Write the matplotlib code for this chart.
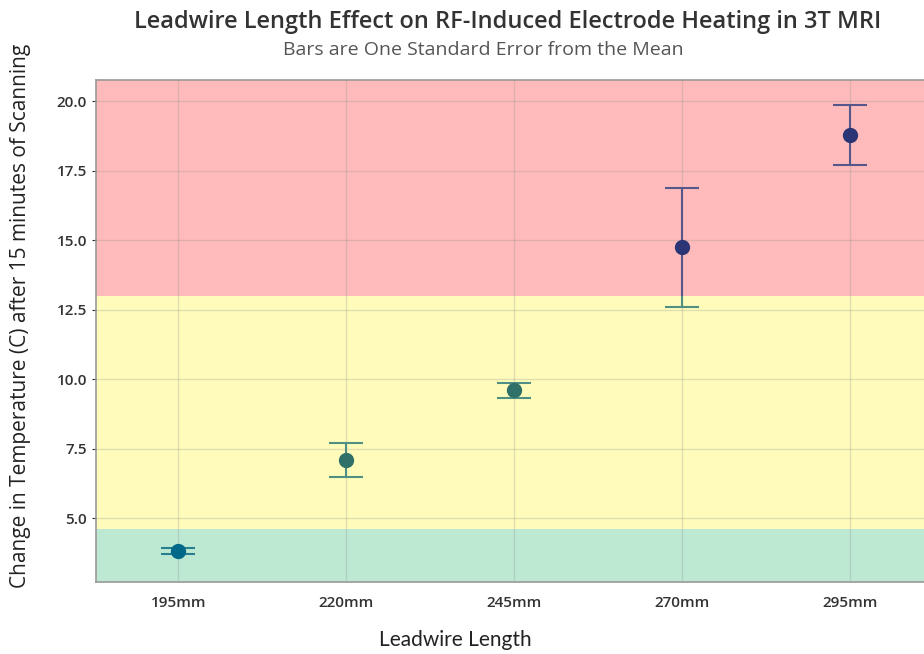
import matplotlib.pyplot as plt
import numpy as np

# data
lengths = ['195mm', '220mm', '245mm', '270mm', '295mm']
mean_dt = [3.81, 7.09, 9.60, 14.75, 18.78]
sem_dt = [0.12, 0.60, 0.27, 2.14, 1.08]

# heating zones (low / medium / high)
zone_edges = [2.70, 4.6, 13.0, 20.76]
zone_colors = ['#bde9d3', '#fffcbb', '#ffbbbb']
pt_colors = ['#00698a', '#2f7068', '#2b3575']
bar_colors = ['#2a7f8f', '#4f8f84', '#55578a']

plt.rcParams['font.family'] = ['Open Sans', 'DejaVu Sans']


def zone_of(y):
    return int(np.clip(np.searchsorted(zone_edges, y) - 1, 0, len(zone_colors) - 1))


fig = plt.figure(figsize=(9.24, 6.54), dpi=100)
ax = fig.add_axes([96/924, 72/654, 1 - 96/924, 502/654])
y0 = 654 - 72  # pixel row of the axes bottom

x = np.arange(len(lengths))
ax.set_xlim(-0.49, 4.44)
ax.set_ylim(zone_edges[0], zone_edges[-1])

for lo, hi, c in zip(zone_edges[:-1], zone_edges[1:], zone_colors):
    ax.axhspan(lo, hi, color=c, zorder=0, lw=0)

for i in range(len(x)):
    lo = mean_dt[i] - sem_dt[i]
    hi = mean_dt[i] + sem_dt[i]
    # whisker coloured by the zone each piece falls in
    cuts = [lo] + [e for e in zone_edges if lo < e < hi] + [hi]
    for a, b in zip(cuts[:-1], cuts[1:]):
        ax.vlines(x[i], a, b, color=bar_colors[zone_of((a + b) / 2)], lw=1.5, zorder=3)
    for yc in (lo, hi):
        ax.plot(x[i], yc, marker='_', ms=24, mew=1.5, color=bar_colors[zone_of(yc)], zorder=3)
    ax.plot(x[i], mean_dt[i], 'o', color=pt_colors[zone_of(mean_dt[i])], ms=10, zorder=4)

ax.set_xticks(x)
ax.set_xticklabels(lengths)
ax.set_yticks([5.0, 7.5, 10.0, 12.5, 15.0, 17.5, 20.0])
ax.set_yticklabels(['5.0', '7.5', '10.0', '12.5', '15.0', '17.5', '20.0'])
ax.tick_params(axis='both', labelsize=11, colors='#333333', length=3, width=0.8)
for lab in ax.get_xticklabels() + ax.get_yticklabels():
    lab.set_fontweight('semibold')
ax.tick_params(axis='x', length=0, pad=10)

ax.grid(True, color='#888888', alpha=0.25, lw=1)
ax.set_axisbelow(True)
for s in ['left', 'bottom', 'top']:
    ax.spines[s].set_color('#999999')
    ax.spines[s].set_linewidth(1.2)
ax.spines['right'].set_visible(False)

ax.set_xlabel('Leadwire Length', fontsize=15, color='#222222', family=['Lato', 'DejaVu Sans'])
ax.xaxis.set_label_coords((455 - 96) / 828, (y0 - 630) / 502)
ax.set_ylabel('Change in Temperature (C) after 15 minutes of Scanning', fontsize=15,
              color='#222222')
ax.yaxis.set_label_coords((31 - 96) / 828, (y0 - 316) / 502)

fig.text(508/924, 1 - 22/654, 'Leadwire Length Effect on RF-Induced Electrode Heating in 3T MRI',
         ha='center', va='center', fontsize=17, fontweight='semibold', color='#333333')
fig.text(483/924, 1 - 50/654, 'Bars are One Standard Error from the Mean',
         ha='center', va='center', fontsize=14, color='#555555')

fig.savefig('out.png', dpi=100)
